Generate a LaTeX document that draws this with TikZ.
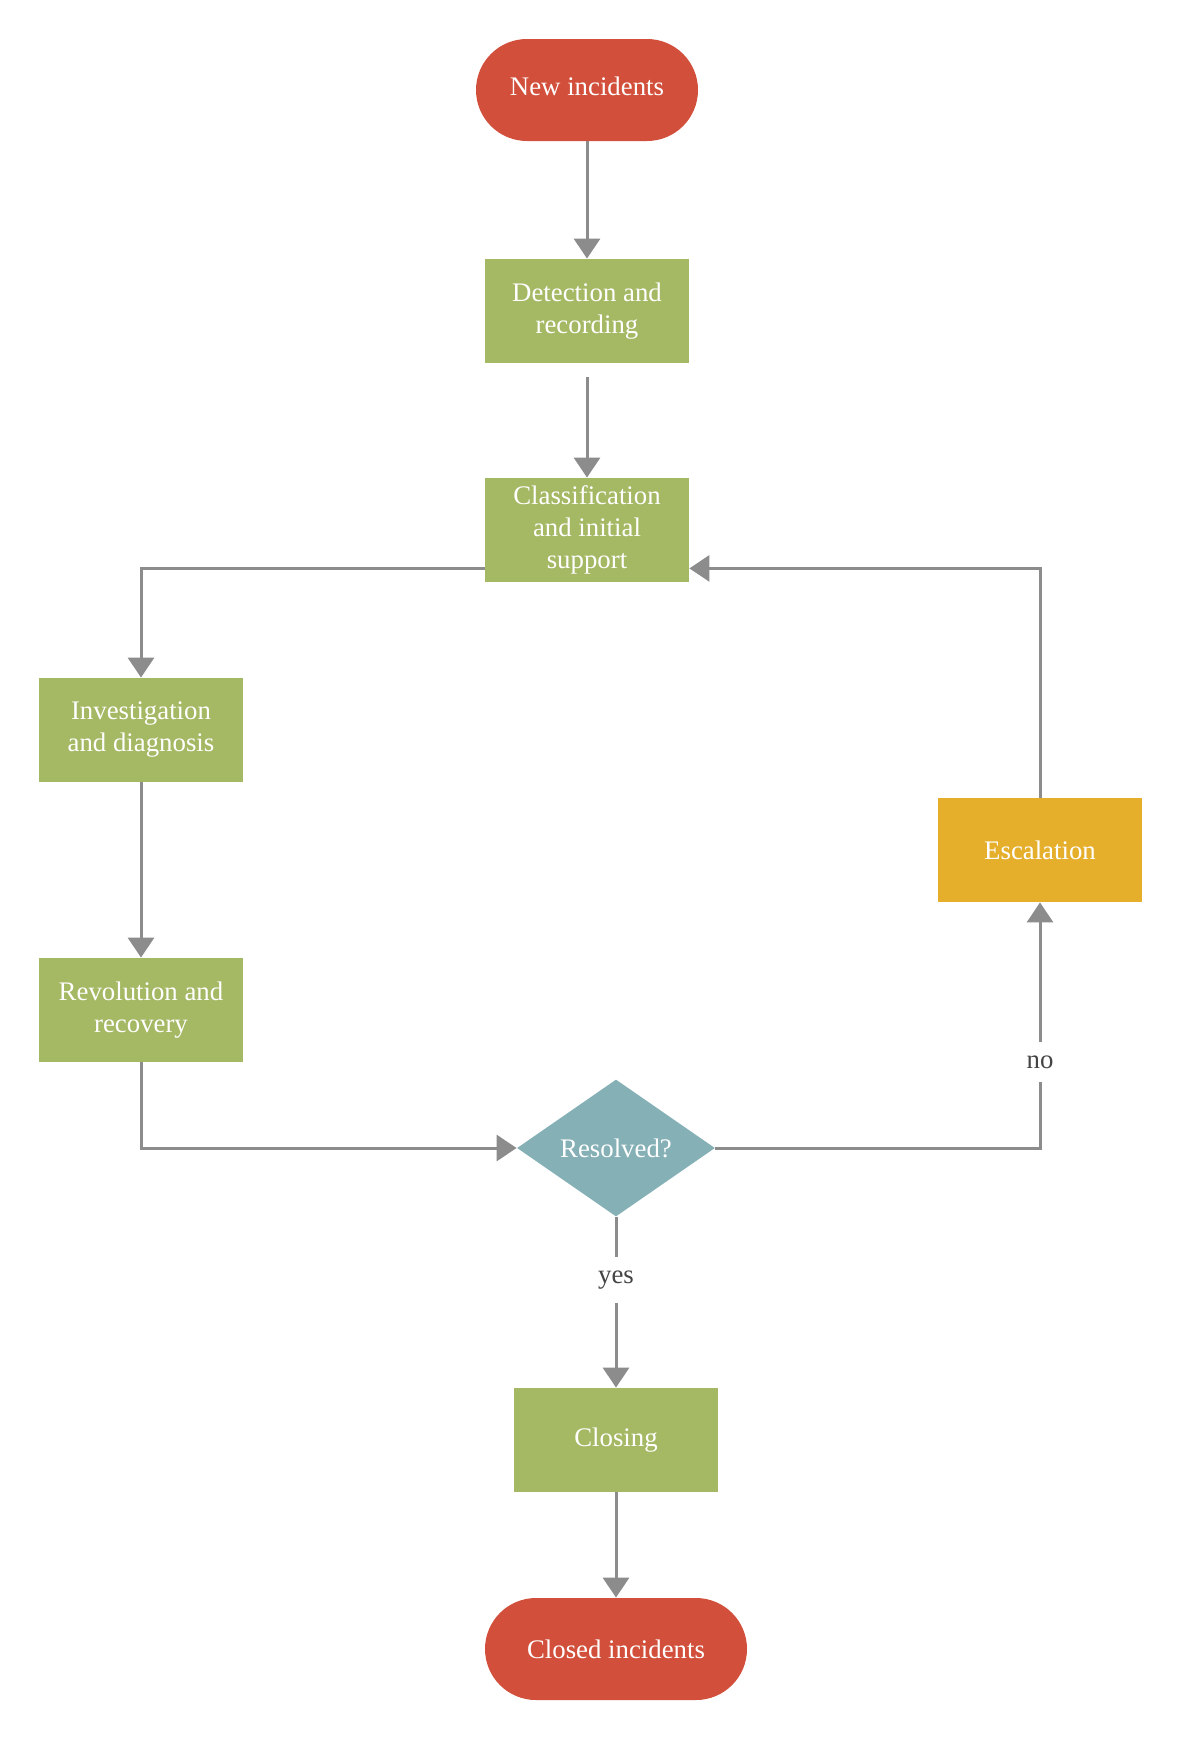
\documentclass[tikz,border=0pt]{standalone}
\usepackage{fontspec}
\setmainfont{Liberation Serif}
\usepackage{tikz}
\usetikzlibrary{shapes.geometric,arrows.meta}
\definecolor{termred}{HTML}{D24F3B}
\definecolor{procgreen}{HTML}{A5B864}
\definecolor{escyellow}{HTML}{E5AF2C}
\definecolor{decteal}{HTML}{84B0B6}
\definecolor{linegray}{HTML}{8C8C8C}
\definecolor{lblgray}{HTML}{444444}

\begin{document}
\begin{tikzpicture}[x=0.5pt,y=-0.5pt,font=\fontsize{13.4}{16}\selectfont,
term/.style={rectangle,rounded corners=25.5pt,fill=termred,text=white,minimum height=51pt,align=center},
proc/.style={rectangle,fill=#1,text=white,minimum width=102pt,minimum height=52pt,inner sep=2pt,align=center},
dec/.style={diamond,fill=decteal,text=white,minimum width=99pt,minimum height=68.5pt,inner sep=0pt},
arr/.style={draw=linegray,line width=1.5pt,-{Triangle[width=13pt,length=10pt]}},
lbl/.style={fill=white,text=lblgray,inner xsep=2pt,inner ysep=7pt}]
\useasboundingbox (0,0) rectangle (1182,1740);
\node[term,minimum width=111pt] (new) at (587,90) {\raisebox{4pt}{New incidents}};
\foreach \nm/\x/\y/\txt in %
{det/587/311/{Detection and\\recording},cls/587/530/{Classification\\and initial\\support},
 inv/141/730/{Investigation\\and diagnosis},rev/141/1010/{Revolution and\\recovery},
 clo/616/1440/{Closing}} {
   \node[proc=procgreen] (\nm) at (\x,\y) {\txt};
}
\node[proc=escyellow] (esc) at (1040,850) {Escalation};
\node[dec] (res) at (616,1148) {Resolved?};
\node[term,minimum width=131pt] (closed) at (616,1649) {Closed incidents};
% connectors
\draw[arr] (new) -- (det);
\draw[arr,shorten <=7pt] (det) -- (cls);
\draw[arr] ([yshift=7pt]cls.south west) -| (inv);
\draw[arr] (inv) -- (rev);
\draw[arr] (rev) |- (res);
\draw[arr] (res) -| node[lbl,pos=0.675]{no} (esc);
\draw[arr] (esc) |- ([yshift=7pt]cls.south east);
\draw[arr] (res) -- node[lbl,pos=0.37]{yes} (clo);
\draw[arr] (clo) -- (closed);
\end{tikzpicture}
\end{document}
